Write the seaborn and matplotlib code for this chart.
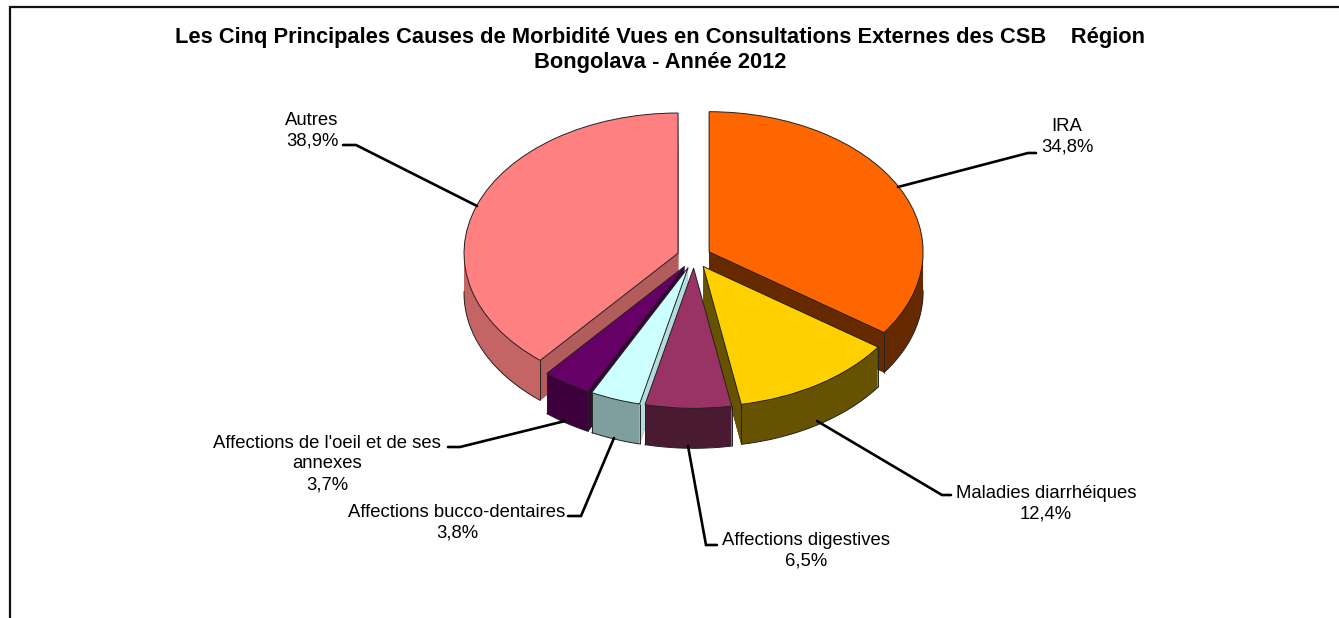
import numpy as np
import matplotlib
matplotlib.use('Agg')
import matplotlib.pyplot as plt
import seaborn as sns

# chart values
categories = ['IRA', 'Maladies diarrhéiques', 'Affections digestives',
              'Affections bucco-dentaires', "Affections de l'oeil et de ses\nannexes", 'Autres']
percents = [34.8, 12.4, 6.5, 3.8, 3.7, 38.9]
percent_labels = ['34,8%', '12,4%', '6,5%', '3,8%', '3,7%', '38,9%']
title = 'Les Cinq Principales Causes de Morbidité Vues en Consultations Externes des CSB    Région\nBongolava - Année 2012'

# styles
top_colors = ['#FF6600', '#FFD000', '#993366', '#CCFFFF', '#660066', '#FF8080']
side_colors = ['#662900', '#665200', '#4A1A33', '#7F9F9F', '#3D003D', '#C46464']
cut_colors = ['#662900', '#665200', '#4A1A33', '#B4DCDC', '#3D003D', '#B35C5C']
draw_rank = [0, 3, 3, 2, 1, 0]

# layout, in pixels of the 1339x618 picture
W, H = 1339, 618
cx, cy = 694, 257
rx = 214
squash = 0.655
explode_px = 17
depth_px = 40
label_xy = [(1067, 137), (1046, 504), (806, 551), (457, 523), (327, 464), (312, 131)]
leaders = [
    [(898, 187), (1028, 153), (1036, 153)],
    [(817, 421), (942, 495), (951, 495)],
    [(688, 446), (706, 545), (717, 545)],
    [(614, 438), (581, 516), (568, 516)],
    [(565, 421), (460, 447), (448, 447)],
    [(477, 206), (356, 145), (343, 145)],
]

sns.set_theme(style='white')
plt.rcParams['font.family'] = ['Liberation Sans', 'DejaVu Sans']

fig = plt.figure(figsize=(W / 100, H / 100), dpi=100)

# pie axes: one y unit is squash pixels, so the circle comes out as an ellipse
ax = fig.add_axes([0, 0, 1, 1])
explode = [explode_px] * len(percents)
depth_units = depth_px / squash


def draw_layer(y_px, colors, level, edge):
    wedges, _ = ax.pie(percents, explode=explode, colors=colors, radius=rx,
                       center=(cx, (H - y_px) / squash), startangle=90, counterclock=False,
                       normalize=True, wedgeprops={'linewidth': edge[1], 'edgecolor': edge[0]})
    for wedge, rank in zip(wedges, draw_rank):
        wedge.set_zorder(rank * 1000 + level)
    return wedges


# stack the darker copies to build the walls, the last pie is the top face
for dz in range(depth_px, 0, -1):
    draw_layer(cy + dz, side_colors, depth_px - dz, ('none', 0))
top_wedges = draw_layer(cy, top_colors, depth_px + 2, ('#222222', 0.7))

for wedge, rank, cut in zip(top_wedges, draw_rank, cut_colors):
    x0, y0 = wedge.center
    for ang, is_start in ((wedge.theta1, True), (wedge.theta2, False)):
        px = x0 + rx * np.cos(np.radians(ang))
        py = y0 + rx * np.sin(np.radians(ang))
        # only the cut faces looking towards the viewer show
        if np.sin(np.radians(ang)) < 0 and (np.cos(np.radians(ang)) > 0) == is_start:
            ax.fill([x0, px, px, x0], [y0, py, py - depth_units, y0 - depth_units], color=cut,
                    lw=0, zorder=rank * 1000 + depth_px + 1)
        # thin vertical edge at the outer corner
        if np.sin(np.radians(ang)) < 0.3:
            ax.plot([px, px], [py, py - depth_units], color='#222222', lw=0.7,
                    zorder=rank * 1000 + depth_px + 1.5, solid_capstyle='butt')
    # lower rim of the wall
    arc = np.radians(np.linspace(wedge.theta1, wedge.theta2, 120))
    arc = arc[np.sin(arc) < 0.02]
    ax.plot(x0 + rx * np.cos(arc), y0 - depth_units + rx * np.sin(arc), color='#222222', lw=0.7,
            zorder=rank * 1000 + depth_px + 1.5)

ax.set_aspect('auto')
ax.set_xlim(0, W)
ax.set_ylim(0, H / squash)
ax.axis('off')

# overlay in pixel coordinates for the frame and the texts
over = fig.add_axes([0, 0, 1, 1], facecolor='none')
over.set_xlim(0, W)
over.set_ylim(H, 0)
over.axis('off')

over.plot([9.5, 9.5, W], [H, 7, 7], color='#111111', lw=1.6, solid_joinstyle='miter')
over.text(660, 50, title, ha='center', va='center', fontsize=15.75, fontweight='bold',
          color='black', linespacing=1.2)

for cat, pct, (lx, ly), line in zip(categories, percent_labels, label_xy, leaders):
    xs, ys = zip(*line)
    over.plot(xs, ys, color='black', lw=1.9, solid_joinstyle='miter')
    over.text(lx, ly, f'{cat}\n{pct}', ha='center', va='center', fontsize=13.3,
              color='black', linespacing=1.3)

fig.savefig('out.png', dpi=100, facecolor='white')
